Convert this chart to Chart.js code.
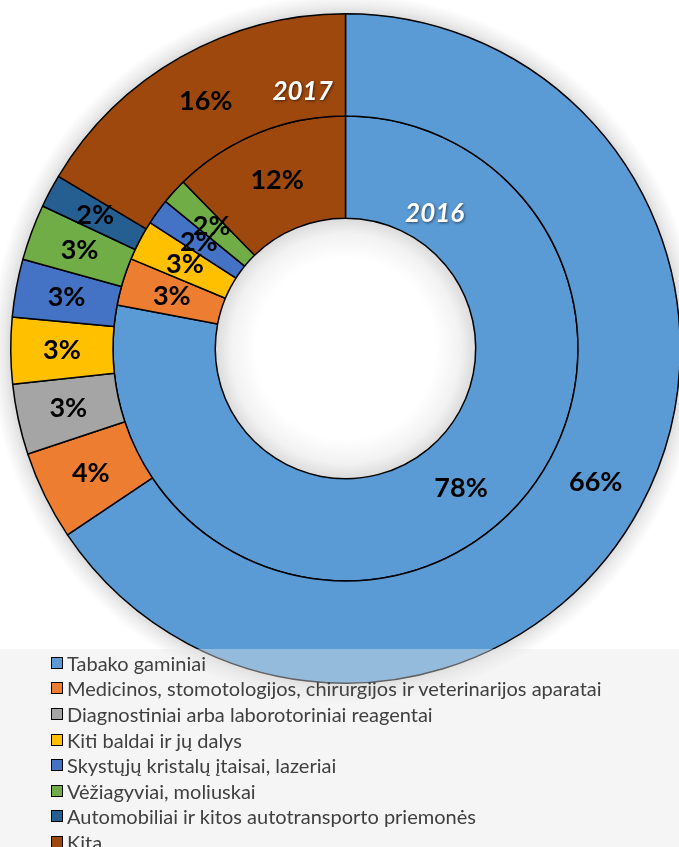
<!DOCTYPE html>
<html lang="lt">
<head>
<meta charset="utf-8">
<title>Eksportas 2016–2017</title>
<script src="https://cdn.jsdelivr.net/npm/chart.js@4.4.1/dist/chart.umd.min.js"></script>
<style>
    html, body { margin: 0; padding: 0; background: #fff; overflow: hidden; }
    body { width: 679px; height: 847px; position: relative; font-family: Lato, "Open Sans", sans-serif; }
    #chartBox { position: absolute; left: -10px; top: -7px; width: 711px; height: 711px; }
    #legendBox {
        position: absolute; left: 0; top: 649px; width: 679px; height: 198px;
        background: rgba(232, 232, 232, 0.42);
        padding-top: 1px; box-sizing: border-box;
    }
    .legend-item { display: flex; align-items: center; height: 25.6px; padding-left: 51px; color: #404040; font-size: 20px; white-space: nowrap; }
    .legend-swatch { width: 10px; height: 10px; border: 1.5px solid #000; margin-right: 4px; flex: none; }
</style>
</head>
<body>
<div id="chartBox"><canvas id="exportChart"></canvas></div>
<div id="legendBox"></div>

<script>
// Kategorijos (vienodos abiem metams)
const categories = [
    'Tabako gaminiai',
    'Medicinos, stomotologijos, chirurgijos ir veterinarijos aparatai',
    'Diagnostiniai arba laborotoriniai reagentai',
    'Kiti baldai ir jų dalys',
    'Skystųjų kristalų įtaisai, lazeriai',
    'Vėžiagyviai, moliuskai',
    'Automobiliai ir kitos autotransporto priemonės',
    'Kita'
];

// Metai (išorinis žiedas 2017, vidinis 2016)
const years = ['2017', '2016'];

// Dalys procentais, nuskaitytos nuo paveikslo
const values2017 = [65.6, 4.3, 3.4, 3.2, 2.8, 2.7, 1.6, 16.4];
const values2016 = [78.0, 3.3, 0, 2.8, 1.8, 1.8, 0, 12.3];

const sliceColors = ['#5B9BD5', '#ED7D31', '#A5A5A5', '#FFC000', '#4472C4', '#70AD47', '#255E91', '#9E480E'];

// Švelnus šešėlis aplink spurgą ir jos skylėje (radialiniai gradientai)
const ringShadow = {
    id: 'ringShadow',
    beforeDatasetsDraw(chart) {
        const outer = chart.getDatasetMeta(0).data[0];
        const inner = chart.getDatasetMeta(1).data[0];
        if (!outer || !inner) return;
        const ctx = chart.ctx;
        const x = outer.x, y = outer.y;
        const R = outer.outerRadius, r = inner.innerRadius;
        ctx.save();

        const glow = ctx.createRadialGradient(x, y, R - 2, x, y, R + 20);
        glow.addColorStop(0, 'rgba(0, 0, 0, 0.16)');
        glow.addColorStop(0.4, 'rgba(0, 0, 0, 0.08)');
        glow.addColorStop(1, 'rgba(0, 0, 0, 0)');
        ctx.fillStyle = glow;
        ctx.beginPath();
        ctx.arc(x, y, R + 20, 0, Math.PI * 2);
        ctx.arc(x, y, R - 2, 0, Math.PI * 2, true);
        ctx.fill();

        const hole = ctx.createRadialGradient(x, y, r - 40, x, y, r + 1);
        hole.addColorStop(0, 'rgba(0, 0, 0, 0)');
        hole.addColorStop(0.6, 'rgba(0, 0, 0, 0.05)');
        hole.addColorStop(1, 'rgba(0, 0, 0, 0.15)');
        ctx.fillStyle = hole;
        ctx.beginPath();
        ctx.arc(x, y, r + 1, 0, Math.PI * 2);
        ctx.fill();
        ctx.restore();
    }
};

// Procentų ir metų užrašai
const sliceLabels = {
    id: 'sliceLabels',
    afterDatasetsDraw(chart) {
        const ctx = chart.ctx;
        ctx.save();
        ctx.textAlign = 'center';
        ctx.textBaseline = 'middle';
        ctx.font = 'bold 27px Lato';
        ctx.fillStyle = '#000';
        chart.data.datasets.forEach((ds, i) => {
            chart.getDatasetMeta(i).data.forEach((arc, j) => {
                if (!ds.data[j]) return;
                const pos = arc.tooltipPosition();
                ctx.fillText(Math.round(ds.data[j]) + '%', pos.x, pos.y);
            });
        });

        // metų užrašai žieduose
        ctx.font = 'italic bold 26px Lato';
        ctx.fillStyle = '#fff';
        ctx.shadowColor = 'rgba(0, 0, 0, 0.55)';
        ctx.shadowBlur = 3;
        ctx.shadowOffsetX = 1;
        ctx.shadowOffsetY = 1;
        const spots = [[-9.5, 0.27], [33.4, 0.31]];
        years.forEach((year, i) => {
            const arc = chart.getDatasetMeta(i).data[0];
            const a = spots[i][0] * Math.PI / 180;
            const r = arc.innerRadius + spots[i][1] * (arc.outerRadius - arc.innerRadius);
            ctx.fillText(year, arc.x + r * Math.sin(a), arc.y - r * Math.cos(a));
        });
        ctx.restore();
    }
};

function buildLegend() {
    const box = document.getElementById('legendBox');
    categories.forEach((name, i) => {
        const item = document.createElement('div');
        item.className = 'legend-item';
        const swatch = document.createElement('span');
        swatch.className = 'legend-swatch';
        swatch.style.background = sliceColors[i];
        const text = document.createElement('span');
        text.textContent = name;
        item.appendChild(swatch);
        item.appendChild(text);
        box.appendChild(item);
    });
}

function renderChart() {
    const ctx = document.getElementById('exportChart').getContext('2d');
    new Chart(ctx, {
        type: 'doughnut',
        data: {
            labels: categories,
            datasets: [
                { label: years[0], data: values2017, backgroundColor: sliceColors, borderColor: '#000', borderWidth: 1.5, hoverOffset: 0 },
                { label: years[1], data: values2016, backgroundColor: sliceColors, borderColor: '#000', borderWidth: 1.5, hoverOffset: 0 }
            ]
        },
        options: {
            responsive: true,
            maintainAspectRatio: false,
            animation: false,
            events: [],
            cutout: '38.9%',
            layout: { padding: 20 },
            plugins: {
                legend: { display: false },
                tooltip: { enabled: false }
            }
        },
        plugins: [ringShadow, sliceLabels]
    });
}

buildLegend();
renderChart();
</script>
</body>
</html>
